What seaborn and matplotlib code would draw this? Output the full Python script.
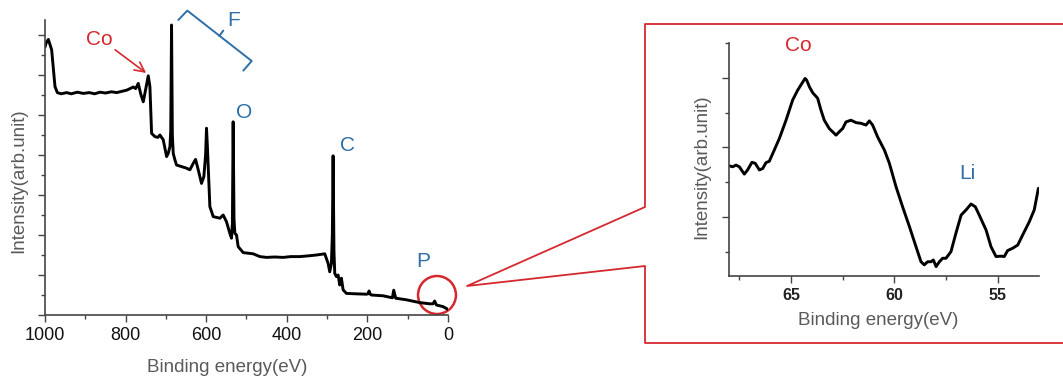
import pandas as pd
import matplotlib.pyplot as plt
import seaborn as sns
from matplotlib.lines import Line2D
from matplotlib.patches import Ellipse

# Survey spectrum
survey_energy = [1000, 997.5, 991.7, 983.5, 979, 975.2, 969.4, 960, 946.3, 935, 920, 905, 890, 877,
                 863.6, 850, 835, 822.3, 810, 797.5, 789, 781, 775, 768.6, 762.8, 756.2, 750.4, 743.8,
                 739.7, 735.5, 727.3, 720, 714.9, 706.6, 698.3, 694.2, 690, 688, 686, 684, 681.8,
                 677.7, 673.6, 661.2, 648.8, 640.5, 632.2, 626.4, 619.8, 611.6, 605.8, 601.5, 599.2,
                 597, 595, 590.9, 582.6, 566.1, 557.9, 549.6, 541.3, 537.2, 535, 533.1, 531, 528.9,
                 524.8, 520.7, 508.3, 483.5, 466.9, 450.4, 430, 409.1, 390, 367.8, 345, 326.4, 305.8,
                 297.5, 293.4, 289.3, 287, 285.1, 283, 281, 276.9, 272.7, 268.6, 264.5, 260.3, 252.1,
                 230, 202.5, 198.5, 195.9, 193, 190.1, 161.2, 138, 134.7, 129.8, 103.3, 70.2, 45.5,
                 37.2, 33.1, 28.9, 12.4, 0]
survey_intensity = [6.70, 6.79, 6.89, 6.63, 6.13, 5.71, 5.56, 5.53, 5.56, 5.53, 5.57, 5.54, 5.56, 5.53,
                    5.57, 5.55, 5.58, 5.56, 5.59, 5.62, 5.66, 5.70, 5.66, 5.79, 5.54, 5.33, 5.63, 5.98,
                    5.71, 4.54, 4.46, 4.44, 4.50, 4.38, 3.96, 4.04, 4.21, 4.60, 7.25, 4.50, 4.04,
                    3.88, 3.75, 3.71, 3.67, 3.63, 3.79, 3.89, 3.63, 3.29, 3.46, 4.00, 4.67,
                    4.20, 3.71, 2.71, 2.46, 2.42, 2.50, 2.33, 2.04, 1.92, 2.30, 4.83, 2.40, 2.04,
                    2.00, 1.71, 1.56, 1.53, 1.46, 1.44, 1.45, 1.44, 1.46, 1.46, 1.48, 1.50, 1.53,
                    1.29, 1.08, 1.29, 2.00, 3.98, 1.60, 1.04, 0.96, 1.00, 0.75, 0.92, 0.63, 0.54,
                    0.53, 0.52, 0.53, 0.60, 0.52, 0.50, 0.48, 0.43, 0.62, 0.42, 0.38, 0.31, 0.28,
                    0.28, 0.35, 0.25, 0.21, 0.14]

# Narrow scan, Co 3p / Li 1s region
detail_energy = [68.0, 67.82, 67.66, 67.5, 67.26, 67.1, 66.89, 66.73, 66.53, 66.37, 66.21, 66.05,
                 65.81, 65.56, 65.24, 64.92, 64.68, 64.47, 64.32, 64.24, 64.11, 63.95, 63.71, 63.55,
                 63.39, 63.15, 62.82, 62.66, 62.5, 62.34, 62.1, 61.85, 61.61, 61.37, 61.21, 61.05,
                 60.81, 60.48, 60.24, 59.92, 59.6, 59.27, 58.95, 58.71, 58.55, 58.39, 58.23, 58.11,
                 57.98, 57.82, 57.66, 57.5, 57.26, 57.02, 56.77, 56.53, 56.29, 56.08, 55.89, 55.56,
                 55.32, 55.08, 54.84, 54.68, 54.52, 54.27, 54.03, 53.79, 53.47, 53.23, 53.03]
detail_intensity = [3.47, 3.44, 3.49, 3.44, 3.23, 3.35, 3.57, 3.54, 3.35, 3.39, 3.56, 3.60,
                    3.92, 4.26, 4.78, 5.36, 5.64, 5.84, 5.98, 5.93, 5.74, 5.57, 5.41, 5.07,
                    4.78, 4.54, 4.35, 4.45, 4.54, 4.73, 4.78, 4.71, 4.69, 4.64, 4.76, 4.64,
                    4.30, 3.92, 3.54, 2.87, 2.29, 1.72, 1.14, 0.71, 0.62, 0.71, 0.71, 0.76,
                    0.57, 0.71, 0.81, 0.81, 1.00, 1.53, 2.05, 2.20, 2.37, 2.29, 2.05, 1.62,
                    1.14, 0.86, 0.87, 0.86, 1.03, 1.10, 1.19, 1.48, 1.86, 2.20, 2.82]

survey = pd.DataFrame({'energy': survey_energy, 'intensity': survey_intensity})
detail = pd.DataFrame({'energy': detail_energy, 'intensity': detail_intensity})

red = '#d5282f'
blue = '#2f6ea6'
gray = '#5a5a5a'

sns.set_style('ticks')
plt.rcParams['font.family'] = ['Liberation Sans', 'DejaVu Sans']

W, H = 1063, 381
fig = plt.figure(figsize=(W / 100, H / 100), dpi=100)


def px_rect(l, t, r, b):
    return [l / W, 1 - b / H, (r - l) / W, (b - t) / H]


ax = fig.add_axes(px_rect(45, 20, 448, 315))
ins = fig.add_axes(px_rect(729, 43, 1039, 276))

# main survey
sns.lineplot(data=survey, x='energy', y='intensity', ax=ax, color='black', lw=2.1)
ax.set_xlim(1000, 0)
ax.set_ylim(0, 7.375)
ax.set_xticks(range(0, 1001, 200))
ax.set_xticks(range(100, 1000, 200), minor=True)
ax.set_yticks(range(0, 8))
ax.set_yticks([i + 0.5 for i in range(7)], minor=True)
ax.tick_params(axis='both', which='major', length=5, width=1, color='#444',
               labelsize=13, labelcolor='#111', labelleft=False, pad=4)
ax.tick_params(axis='both', which='minor', length=3, width=1, color='#444')
ax.set_xlabel('Binding energy(eV)', fontsize=13.5, color=gray)
ax.set_ylabel('Intensity(arb.unit)', fontsize=13.5, color=gray)
ax.xaxis.set_label_coords(0.452, -0.15)
ax.yaxis.set_label_coords(-0.045, 0.455)

# inset
sns.lineplot(data=detail, x='energy', y='intensity', ax=ins, color='black', lw=2.1)
ins.set_xlim(68, 53)
ins.set_ylim(0.3, 7.0)
ins.set_xticks([65, 60, 55])
ins.set_xticks([67.5, 62.5, 57.5], minor=True)
ins.set_yticks([2, 4, 6])
ins.set_yticks([1, 3, 5, 7], minor=True)
ins.tick_params(axis='both', which='major', length=5, width=1, color='#444',
                labelsize=11.5, labelcolor='#222', labelleft=False, pad=4)
ins.tick_params(axis='both', which='minor', length=3, width=1, color='#444')
for lab in ins.get_xticklabels():
    lab.set_fontweight('bold')
ins.set_xlabel('Binding energy(eV)', fontsize=13.5, color=gray)
ins.set_ylabel('Intensity(arb.unit)', fontsize=13.5, color=gray)
ins.xaxis.set_label_coords(0.48, -0.155)
ins.yaxis.set_label_coords(-0.06, 0.47)

for a in (ax, ins):
    sns.despine(ax=a)
    for s in ('left', 'bottom'):
        a.spines[s].set_color('#444')
        a.spines[s].set_linewidth(1.2)

# element labels on the survey
ax.text(866, 6.88, 'Co', color=red, fontsize=15, ha='center', va='center')
ax.annotate('', xy=(749, 6.05), xytext=(826, 6.63),
            arrowprops=dict(arrowstyle='->,head_length=0.7,head_width=0.35', color=red, lw=1.2,
                            shrinkA=0, shrinkB=0))
ax.plot([669.2, 646.9, 487.1, 507.9], [7.375, 7.61, 6.35, 6.11], color=blue, lw=1.4, clip_on=False)
ax.plot([567.5, 557.6], [6.975, 7.11], color=blue, lw=1.4, clip_on=False)
ax.text(531, 7.35, 'F', color=blue, fontsize=15, ha='center', va='center')
ax.text(506, 5.05, 'O', color=blue, fontsize=15, ha='center', va='center')
ax.text(250.6, 4.23, 'C', color=blue, fontsize=15, ha='center', va='center')
ax.text(62, 1.33, 'P', color=blue, fontsize=15, ha='center', va='center')
ax.add_patch(Ellipse((27.3, 0.5), 94, 0.95, fill=False, ec=red, lw=1.8, clip_on=False))

# inset labels
ins.text(64.63, 6.94, 'Co', color=red, fontsize=15, ha='center', va='center')
ins.text(56.45, 3.25, 'Li', color=blue, fontsize=15, ha='center', va='center')

# zoom frame and connector lines (figure pixels)
fx = [1063, 645, 645, 467, 645, 645, 1063]
fy = [24, 24, 207, 286, 266, 343, 343]
fig.add_artist(Line2D([x / W for x in fx], [1 - y / H for y in fy], color=red, lw=1.3,
                      transform=fig.transFigure))

plt.savefig('out.png', dpi=100)
